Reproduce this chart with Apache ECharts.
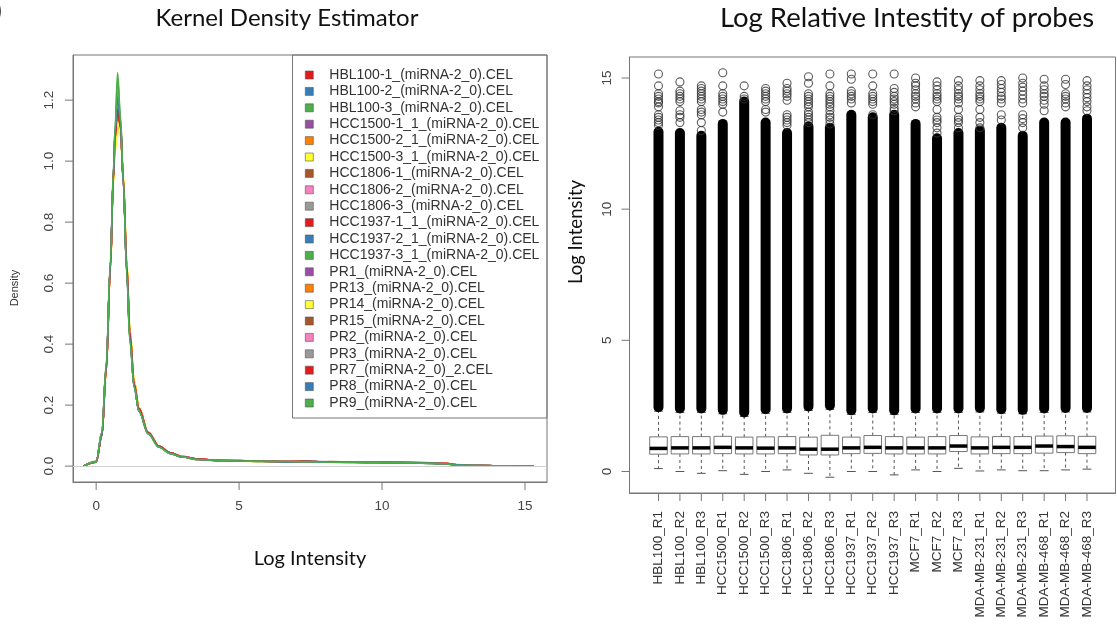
<!DOCTYPE html>
<html>
<head>
<meta charset="utf-8">
<script src="https://cdn.jsdelivr.net/npm/echarts@6/dist/echarts.min.js"></script>
<style>
html,body{margin:0;padding:0;background:#fff;}
#chart{width:1117px;height:629px;}
</style>
</head>
<body>
<div id="chart"></div>
<script>
// ---------- Left panel: kernel density ----------
const sampleNames = [
  'HBL100-1_(miRNA-2_0).CEL','HBL100-2_(miRNA-2_0).CEL','HBL100-3_(miRNA-2_0).CEL',
  'HCC1500-1_1_(miRNA-2_0).CEL','HCC1500-2_1_(miRNA-2_0).CEL','HCC1500-3_1_(miRNA-2_0).CEL',
  'HCC1806-1_(miRNA-2_0).CEL','HCC1806-2_(miRNA-2_0).CEL','HCC1806-3_(miRNA-2_0).CEL',
  'HCC1937-1_1_(miRNA-2_0).CEL','HCC1937-2_1_(miRNA-2_0).CEL','HCC1937-3_1_(miRNA-2_0).CEL',
  'PR1_(miRNA-2_0).CEL','PR13_(miRNA-2_0).CEL','PR14_(miRNA-2_0).CEL','PR15_(miRNA-2_0).CEL',
  'PR2_(miRNA-2_0).CEL','PR3_(miRNA-2_0).CEL','PR7_(miRNA-2_0)_2.CEL','PR8_(miRNA-2_0).CEL',
  'PR9_(miRNA-2_0).CEL'
];
const sampleColors = ['#E41A1C','#377EB8','#4DAF4A','#984EA3','#FF7F00','#FFFF33','#A65628','#F781BF','#999999'];
const densityX = [-0.45,0.0,0.2,0.35,0.5,0.6,0.66,0.75,0.85,0.95,1.07,1.18,1.33,1.5,1.82,2.2,2.6,3.0,3.6,4.3,5.0,5.8,6.6,7.4,8.2,9.0,9.8,10.6,11.4,12.2,12.6,13.4,14.4,15.3];
const densityValues = [
  [0,0.014,0.10,0.32,0.66,0.95,1.08,1.20,1.12,0.93,0.64,0.42,0.26,0.18,0.110,0.064,0.043,0.031,0.022,0.019,0.018,0.016,0.015,0.016,0.013,0.012,0.013,0.012,0.010,0.008,0.004,0.002,0.001,0],
  [0,0.015,0.10,0.31,0.65,0.95,1.09,1.22,1.13,0.94,0.65,0.43,0.27,0.18,0.110,0.063,0.042,0.030,0.021,0.018,0.016,0.017,0.014,0.015,0.014,0.013,0.012,0.013,0.011,0.009,0.004,0.002,0.001,0],
  [0,0.014,0.11,0.33,0.67,0.96,1.11,1.29,1.15,0.94,0.63,0.41,0.26,0.18,0.105,0.062,0.041,0.030,0.022,0.018,0.017,0.015,0.016,0.014,0.013,0.013,0.012,0.012,0.010,0.008,0.003,0.002,0.001,0],
  [0,0.013,0.10,0.32,0.66,0.94,1.07,1.18,1.11,0.94,0.65,0.43,0.27,0.19,0.110,0.066,0.044,0.032,0.023,0.019,0.017,0.016,0.016,0.014,0.014,0.012,0.013,0.011,0.011,0.009,0.004,0.002,0.001,0],
  [0,0.014,0.10,0.31,0.65,0.93,1.04,1.12,1.09,0.95,0.67,0.45,0.28,0.19,0.112,0.066,0.044,0.031,0.021,0.020,0.018,0.017,0.015,0.016,0.013,0.014,0.012,0.013,0.012,0.010,0.005,0.002,0.001,0],
  [0,0.013,0.10,0.31,0.64,0.92,1.03,1.10,1.08,0.96,0.68,0.45,0.28,0.19,0.110,0.065,0.043,0.030,0.022,0.018,0.016,0.015,0.016,0.015,0.014,0.012,0.013,0.012,0.010,0.009,0.004,0.002,0.001,0],
  [0,0.015,0.11,0.32,0.66,0.94,1.07,1.17,1.11,0.94,0.66,0.44,0.27,0.18,0.108,0.064,0.043,0.031,0.022,0.019,0.017,0.016,0.015,0.014,0.015,0.013,0.012,0.011,0.011,0.008,0.004,0.002,0.001,0],
  [0,0.014,0.10,0.32,0.65,0.95,1.08,1.19,1.12,0.93,0.65,0.43,0.27,0.18,0.110,0.065,0.042,0.030,0.022,0.018,0.018,0.016,0.015,0.015,0.013,0.013,0.013,0.012,0.010,0.009,0.004,0.002,0.001,0],
  [0,0.016,0.11,0.33,0.66,0.95,1.09,1.21,1.13,0.93,0.64,0.42,0.26,0.18,0.107,0.063,0.042,0.031,0.022,0.019,0.017,0.015,0.016,0.014,0.014,0.012,0.012,0.012,0.011,0.008,0.003,0.002,0.001,0],
  [0,0.013,0.10,0.31,0.65,0.94,1.06,1.16,1.11,0.94,0.66,0.44,0.27,0.19,0.110,0.065,0.043,0.031,0.023,0.019,0.016,0.017,0.015,0.015,0.013,0.014,0.012,0.012,0.010,0.009,0.004,0.002,0.001,0],
  [0,0.014,0.10,0.32,0.66,0.95,1.08,1.20,1.12,0.93,0.65,0.43,0.26,0.18,0.109,0.064,0.043,0.030,0.021,0.018,0.017,0.016,0.014,0.016,0.014,0.013,0.013,0.011,0.011,0.009,0.004,0.002,0.001,0],
  [0,0.014,0.11,0.32,0.66,0.95,1.09,1.23,1.13,0.94,0.64,0.42,0.26,0.18,0.107,0.063,0.042,0.030,0.022,0.018,0.017,0.015,0.015,0.014,0.013,0.013,0.012,0.012,0.010,0.008,0.003,0.002,0.001,0],
  [0,0.015,0.10,0.32,0.65,0.94,1.08,1.19,1.12,0.94,0.65,0.43,0.27,0.18,0.110,0.065,0.043,0.031,0.022,0.019,0.017,0.016,0.016,0.015,0.013,0.013,0.012,0.012,0.011,0.009,0.004,0.002,0.001,0],
  [0,0.013,0.10,0.31,0.65,0.93,1.05,1.14,1.10,0.95,0.67,0.44,0.28,0.19,0.111,0.066,0.044,0.032,0.022,0.020,0.017,0.016,0.015,0.015,0.014,0.013,0.013,0.012,0.012,0.009,0.004,0.002,0.001,0],
  [0,0.014,0.10,0.31,0.64,0.93,1.04,1.13,1.09,0.95,0.67,0.45,0.28,0.19,0.110,0.065,0.043,0.031,0.021,0.019,0.018,0.015,0.016,0.014,0.014,0.012,0.012,0.013,0.010,0.009,0.004,0.002,0.001,0],
  [0,0.014,0.10,0.32,0.66,0.94,1.07,1.18,1.11,0.94,0.65,0.43,0.27,0.18,0.108,0.064,0.043,0.030,0.022,0.018,0.017,0.016,0.015,0.015,0.013,0.013,0.013,0.011,0.011,0.008,0.004,0.002,0.001,0],
  [0,0.015,0.11,0.32,0.66,0.95,1.08,1.20,1.12,0.93,0.65,0.43,0.26,0.18,0.109,0.064,0.042,0.031,0.022,0.019,0.016,0.016,0.015,0.014,0.014,0.012,0.013,0.012,0.010,0.009,0.004,0.002,0.001,0],
  [0,0.014,0.10,0.32,0.66,0.95,1.09,1.22,1.13,0.93,0.64,0.42,0.26,0.18,0.107,0.063,0.042,0.030,0.021,0.018,0.017,0.015,0.016,0.014,0.013,0.013,0.012,0.012,0.011,0.008,0.003,0.002,0.001,0],
  [0,0.013,0.10,0.31,0.65,0.94,1.07,1.17,1.11,0.94,0.66,0.44,0.27,0.19,0.110,0.065,0.044,0.031,0.023,0.019,0.018,0.016,0.015,0.015,0.014,0.013,0.012,0.013,0.011,0.009,0.004,0.002,0.001,0],
  [0,0.014,0.10,0.32,0.66,0.95,1.09,1.21,1.12,0.93,0.64,0.42,0.26,0.18,0.108,0.063,0.042,0.030,0.022,0.018,0.016,0.016,0.014,0.015,0.013,0.014,0.013,0.012,0.010,0.008,0.004,0.002,0.001,0],
  [0,0.014,0.11,0.33,0.67,0.96,1.10,1.27,1.14,0.94,0.63,0.41,0.26,0.18,0.106,0.062,0.041,0.030,0.022,0.018,0.017,0.016,0.015,0.014,0.013,0.013,0.012,0.012,0.010,0.008,0.003,0.002,0.001,0]
];
const densityXTicks = [0,5,10,15];
const densityYTicks = [0,0.2,0.4,0.6,0.8,1.0,1.2];

// ---------- Right panel: boxplots ----------
const boxLabels = ['HBL100_R1','HBL100_R2','HBL100_R3','HCC1500_R1','HCC1500_R2','HCC1500_R3',
  'HCC1806_R1','HCC1806_R2','HCC1806_R3','HCC1937_R1','HCC1937_R2','HCC1937_R3',
  'MCF7_R1','MCF7_R2','MCF7_R3','MDA-MB-231_R1','MDA-MB-231_R2','MDA-MB-231_R3',
  'MDA-MB-468_R1','MDA-MB-468_R2','MDA-MB-468_R3'];
const boxLow    = [0.11,0.00,-0.07,0.03,-0.11,0.00,0.06,-0.07,-0.22,0.00,0.00,-0.13,0.06,0.00,0.12,0.02,0.06,0.03,0.03,0.06,0.09];
const boxQ1     = [0.66,0.67,0.67,0.68,0.67,0.67,0.68,0.63,0.63,0.68,0.69,0.67,0.67,0.67,0.76,0.67,0.68,0.68,0.70,0.72,0.68];
const boxMedian = [0.88,0.90,0.90,0.92,0.90,0.89,0.90,0.85,0.85,0.90,0.92,0.90,0.90,0.90,0.97,0.90,0.92,0.92,0.97,0.95,0.92];
const boxQ3     = [1.32,1.33,1.33,1.34,1.31,1.32,1.33,1.31,1.38,1.31,1.37,1.33,1.31,1.33,1.37,1.32,1.33,1.33,1.35,1.36,1.34];
const boxHigh   = [2.30,2.25,2.25,2.20,2.10,2.22,2.25,2.33,2.37,2.18,2.25,2.18,2.25,2.25,2.25,2.27,2.22,2.20,2.25,2.27,2.27];
// dense band of overlapping outlier circles (from - to)
const denseLow  = [2.45,2.40,2.40,2.35,2.25,2.37,2.40,2.48,2.52,2.33,2.40,2.33,2.40,2.40,2.40,2.42,2.37,2.35,2.40,2.42,2.42];
const denseHigh = [12.95,12.90,12.80,13.25,14.10,13.30,12.90,13.15,13.10,13.60,13.50,13.60,13.25,12.70,12.90,13.00,13.10,12.80,13.30,13.30,13.45];
// sparse outliers above the dense band
const sparseOutliers = [
  [15.15,14.7,14.4,14.3,14.2,14.1,14.05,13.9,13.6,13.5,13.4,13.3,13.2],
  [14.85,14.5,14.4,14.3,14.2,14.1,13.75,13.6,13.5,13.3],
  [14.7,14.6,14.5,14.4,14.3,14.2,14.1,13.8,13.7,13.6,13.3,13.0],
  [15.2,14.7,14.4,14.3,14.2,14.1,14.0,13.7],
  [14.7,14.3,14.2],
  [14.6,14.5,14.4,14.3,14.2,14.1,13.8,13.7],
  [14.8,14.6,14.5,14.4,14.3,14.15,13.6,13.5,13.4,13.3,13.2],
  [15.05,14.8,14.4,14.3,14.2,14.1,14.0,13.9,13.7,13.6,13.5,13.4,13.3],
  [15.15,14.7,14.4,14.3,14.2,14.1,14.0,13.9,13.75,13.6,13.5,13.4,13.25],
  [15.15,14.95,14.5,14.4,14.3,14.2,14.05],
  [15.15,14.7,14.4,14.3,14.2,14.1,14.0,13.6],
  [15.15,14.6,14.45,14.3,14.2,14.1,14.0,13.85,13.75],
  [15.0,14.8,14.7,14.55,14.4,14.3,14.2,14.05,13.9],
  [14.85,14.7,14.55,14.4,14.3,14.2,14.1,13.8,13.5,13.4,13.3,13.1,12.9],
  [14.9,14.7,14.55,14.4,14.3,14.2,14.05,13.8,13.5,13.4,13.3,13.1],
  [14.9,14.7,14.55,14.4,14.3,14.2,14.1,13.8,13.5,13.3,13.1],
  [14.9,14.75,14.6,14.45,14.3,14.2,14.05,13.6,13.4],
  [15.0,14.8,14.65,14.5,14.35,14.2,14.05,13.6,13.45,13.3,13.1],
  [14.95,14.7,14.55,14.4,14.3,14.15,14.0,13.75],
  [14.95,14.75,14.4,14.3,14.2,14.05,13.9],
  [14.9,14.7,14.55,14.4,14.25,14.1,13.9,13.75]
];
const boxYTicks = [0,5,10,15];

// ---------- build ----------
const chart = echarts.init(document.getElementById('chart'), null, {renderer:'canvas'});
const ARIAL = 'Liberation Sans, Arial, sans-serif';
const CAL = 'Lato, Carlito, sans-serif';
const FRAME = '#777';
const TICK_LEN = 8;

const densitySeries = sampleNames.map((name, i) => ({
  name: name,
  type: 'line',
  xAxisIndex: 0, yAxisIndex: 0,
  data: densityX.map((x, j) => [x, densityValues[i][j]]),
  showSymbol: false,
  smooth: 0.35,
  smoothMonotone: 'x',
  color: sampleColors[i % sampleColors.length],
  lineStyle: {width: 1.6, color: sampleColors[i % sampleColors.length]},
  z: 3,
  silent: true,
  markLine: i === 0 ? {
    silent: true, symbol: 'none', label: {show: false},
    lineStyle: {color: '#d0d0d0', width: 1, type: 'solid'},
    data: [{yAxis: 0}]
  } : undefined
}));

const boxData = boxLabels.map((_, i) => [i + 1, boxLow[i], boxQ1[i], boxMedian[i], boxQ3[i], boxHigh[i]]);
const denseData = boxLabels.map((_, i) => [i + 1, denseLow[i], denseHigh[i]]);
const outlierData = [];
sparseOutliers.forEach((arr, i) => arr.forEach(v => outlierData.push([i + 1, v])));

// tick marks outside the frame, positioned through the axes' own scales
function xTickSeries(axisIdx, ticks, yRef) {
  return {
    type: 'custom', xAxisIndex: axisIdx, yAxisIndex: axisIdx, silent: true, clip: false, z: 5,
    data: ticks.map(v => [v, yRef]),
    renderItem: function (params, api) {
      const p = api.coord([api.value(0), api.value(1)]);
      const cs = params.coordSys;
      const yb = cs.y + cs.height;
      return {type: 'line', shape: {x1: p[0], y1: yb, x2: p[0], y2: yb + TICK_LEN},
        style: {stroke: FRAME, lineWidth: 1}};
    }
  };
}
function yTickSeries(axisIdx, ticks, xRef) {
  return {
    type: 'custom', xAxisIndex: axisIdx, yAxisIndex: axisIdx, silent: true, clip: false, z: 5,
    data: ticks.map(v => [xRef, v]),
    renderItem: function (params, api) {
      const p = api.coord([api.value(0), api.value(1)]);
      const cs = params.coordSys;
      return {type: 'line', shape: {x1: cs.x, y1: p[1], x2: cs.x - TICK_LEN, y2: p[1]},
        style: {stroke: FRAME, lineWidth: 1}};
    }
  };
}

const frameLine = {show: true, onZero: false, lineStyle: {color: FRAME, width: 1}};
const noTick = {show: false};

const option = {
  animation: false,
  backgroundColor: '#fff',
  title: [
    {text: 'Kernel Density Estimator', left: 287, top: 6, textAlign: 'center', padding: 0,
     textStyle: {fontFamily: CAL, fontSize: 24, fontWeight: 'normal', color: '#111'}},
    {text: 'Log Relative Intestity of probes', left: 907, top: 4, textAlign: 'center', padding: 0,
     textStyle: {fontFamily: CAL, fontSize: 27.5, fontWeight: 'normal', color: '#111'}}
  ],
  legend: {
    data: sampleNames,
    orient: 'vertical',
    left: 305, top: 68,
    padding: 0,
    itemWidth: 8, itemHeight: 8, itemGap: 2.4,
    icon: 'rect',
    selectedMode: false,
    itemStyle: {borderColor: '#555', borderWidth: 0.6},
    textStyle: {fontFamily: ARIAL, fontSize: 14, lineHeight: 14, color: '#333', padding: [0, 0, 0, 11]}
  },
  grid: [
    {left: 73, top: 55, width: 474, height: 427, show: true, borderColor: FRAME, borderWidth: 1, backgroundColor: 'transparent'},
    {left: 629.5, top: 57, width: 486, height: 436, show: true, borderColor: FRAME, borderWidth: 1, backgroundColor: 'transparent'}
  ],
  xAxis: [
    {type: 'value', gridIndex: 0, min: -0.81, max: 15.77,
     axisLine: frameLine, splitLine: {show: false}, axisTick: noTick,
     axisLabel: {show: true, customValues: densityXTicks, margin: 17, fontFamily: ARIAL, fontSize: 13.5, color: '#444'},
     name: 'Log Intensity', nameLocation: 'middle', nameGap: 67,
     nameTextStyle: {fontFamily: CAL, fontSize: 20, color: '#111'}},
    {type: 'value', gridIndex: 1, min: -0.353, max: 22.33,
     axisLine: frameLine, splitLine: {show: false}, axisTick: noTick,
     axisLabel: {show: true, customValues: boxLabels.map((_, i) => i + 1), rotate: 90, margin: 18,
       fontFamily: ARIAL, fontSize: 13.5, color: '#333',
       formatter: v => boxLabels[Math.round(v) - 1] || ''}}
  ],
  yAxis: [
    {type: 'value', gridIndex: 0, min: -0.052, max: 1.348,
     axisLine: frameLine, splitLine: {show: false}, axisTick: noTick,
     axisLabel: {show: true, customValues: densityYTicks, rotate: 90, margin: 17,
       fontFamily: ARIAL, fontSize: 13.5, color: '#444', formatter: v => v.toFixed(1)}},
    {type: 'value', gridIndex: 1, min: -0.82, max: 15.8,
     axisLine: frameLine, splitLine: {show: false}, axisTick: noTick,
     axisLabel: {show: true, customValues: boxYTicks, rotate: 90, margin: 15,
       fontFamily: ARIAL, fontSize: 13.5, color: '#444'}}
  ],
  graphic: [
    {type: 'rect', shape: {x: 292.5, y: 55, width: 254.5, height: 363},
     style: {fill: 'none', stroke: FRAME, lineWidth: 1}, silent: true, z: 10},
    {type: 'text', x: 15, y: 288, rotation: Math.PI / 2, silent: true,
     style: {text: 'Density', fontFamily: ARIAL, fontSize: 11, fill: '#333', align: 'center', verticalAlign: 'middle'}},
    {type: 'text', x: 576, y: 232, rotation: Math.PI / 2, silent: true,
     style: {text: 'Log Intensity', fontFamily: CAL, fontSize: 18.5, fill: '#111', align: 'center', verticalAlign: 'middle'}},
    {type: 'text', x: -4, y: 2, silent: true,
     style: {text: ')', fontFamily: CAL, fontSize: 20, fontWeight: 'bold', fill: '#111'}}
  ],
  series: densitySeries.concat([
    {
      type: 'custom', name: 'box', xAxisIndex: 1, yAxisIndex: 1, silent: true, z: 2,
      data: boxData,
      renderItem: function (params, api) {
        const i = api.value(0);
        const pLow = api.coord([i, api.value(1)]);
        const pQ1 = api.coord([i, api.value(2)]);
        const pMed = api.coord([i, api.value(3)]);
        const pQ3 = api.coord([i, api.value(4)]);
        const pHigh = api.coord([i, api.value(5)]);
        const w = api.size([0.82, 0])[0];
        const x = pQ1[0];
        const dash = {stroke: '#555', lineWidth: 1, lineDash: [3, 3]};
        return {type: 'group', children: [
          {type: 'line', shape: {x1: x, y1: pQ1[1], x2: x, y2: pLow[1]}, style: dash},
          {type: 'line', shape: {x1: x, y1: pQ3[1], x2: x, y2: pHigh[1]}, style: dash},
          {type: 'line', shape: {x1: x - w / 4, y1: pLow[1], x2: x + w / 4, y2: pLow[1]}, style: {stroke: '#555', lineWidth: 1}},
          {type: 'line', shape: {x1: x - w / 4, y1: pHigh[1], x2: x + w / 4, y2: pHigh[1]}, style: {stroke: '#555', lineWidth: 1}},
          {type: 'rect', shape: {x: x - w / 2, y: pQ3[1], width: w, height: pQ1[1] - pQ3[1]},
           style: {fill: '#fff', stroke: '#777', lineWidth: 1}},
          {type: 'line', shape: {x1: x - w / 2, y1: pMed[1], x2: x + w / 2, y2: pMed[1]},
           style: {stroke: '#000', lineWidth: 3.5}}
        ]};
      }
    },
    {
      type: 'custom', name: 'dense', xAxisIndex: 1, yAxisIndex: 1, silent: true, z: 3,
      data: denseData,
      renderItem: function (params, api) {
        const i = api.value(0);
        const pL = api.coord([i, api.value(1)]);
        const pH = api.coord([i, api.value(2)]);
        const r = 5;
        return {type: 'rect',
          shape: {x: pL[0] - r, y: pH[1] - r, width: 2 * r, height: pL[1] - pH[1] + 2 * r, r: r},
          style: {fill: '#000'}};
      }
    },
    {
      type: 'scatter', name: 'outliers', xAxisIndex: 1, yAxisIndex: 1, silent: true, z: 4,
      data: outlierData,
      symbol: 'circle', symbolSize: 8,
      itemStyle: {color: 'rgba(0,0,0,0)', borderColor: '#333', borderWidth: 1.1}
    },
    xTickSeries(0, densityXTicks, 0),
    yTickSeries(0, densityYTicks, 0),
    xTickSeries(1, boxLabels.map((_, i) => i + 1), 0),
    yTickSeries(1, boxYTicks, 1)
  ])
};
chart.setOption(option);
</script>
</body>
</html>
